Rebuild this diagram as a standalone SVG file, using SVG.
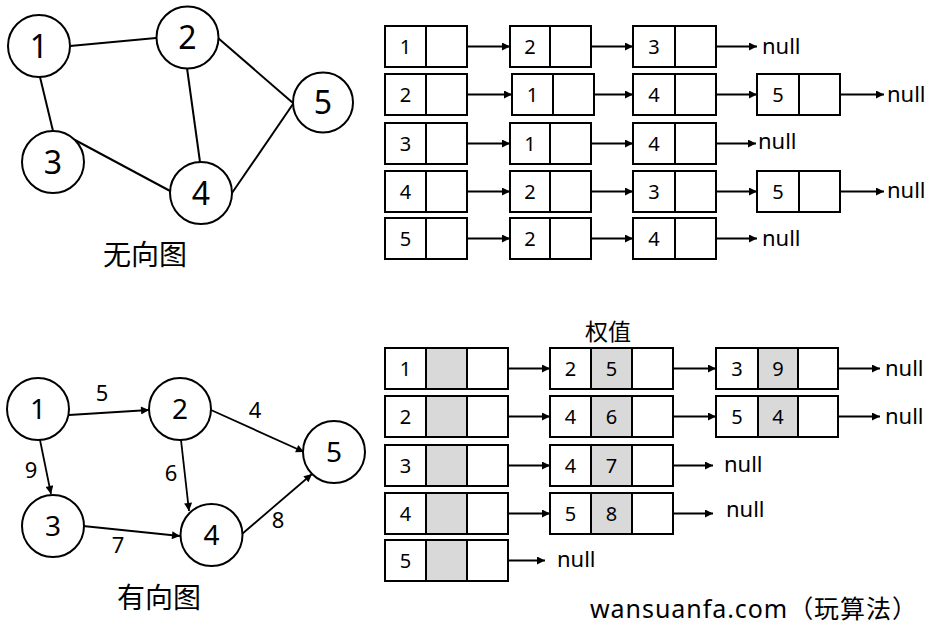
<svg xmlns="http://www.w3.org/2000/svg" width="944" height="641" viewBox="0 0 944 641">
<style>
.c{fill:#fff;stroke:#000;stroke-width:2}
.g{fill:#d9d9d9;stroke:#000;stroke-width:2}
.n{fill:#fff;stroke:#000;stroke-width:2}
.t{font-family:"Noto Sans","Noto Sans CJK SC",sans-serif;fill:#000;text-anchor:middle}
.d{font-size:20px}
.nl{font-family:"Noto Sans","Noto Sans CJK SC",sans-serif;font-size:22px;fill:#000}
.big{font-size:32px}
.mid{font-size:28px}
.el{font-size:22px}
.cap{font-size:28px}
.e{stroke:#000;stroke-width:2;fill:none}
.a{stroke:#000;stroke-width:1.8;fill:none;marker-end:url(#ah)}
</style>
<defs>
<marker id="ah" viewBox="0 0 10 10" refX="10" refY="5" markerWidth="10" markerHeight="8" markerUnits="userSpaceOnUse" orient="auto">
<path d="M0,0 L10,5 L0,10 z" fill="#000"/>
</marker>
</defs>
<rect width="944" height="641" fill="#fff"/>

<!-- Undirected graph -->
<g id="undirected-edges">
<line class="e" x1="70" y1="46" x2="156" y2="38"/>
<line class="e" x1="40" y1="77" x2="53" y2="131"/>
<line class="e" x1="187" y1="68" x2="200" y2="162"/>
<line class="e" x1="218" y1="38" x2="293" y2="103"/>
<line class="e" x1="75" y1="140" x2="172" y2="192"/>
<line class="e" x1="232" y1="193" x2="293" y2="104"/>
</g>
<g id="u1"><circle class="n" cx="39" cy="46" r="31"/><text class="t big" x="39" y="57.5">1</text></g>
<g id="u2"><circle class="n" cx="187.5" cy="37.5" r="31"/><text class="t big" x="187.5" y="49">2</text></g>
<g id="u3"><circle class="n" cx="53" cy="162" r="31"/><text class="t big" x="53" y="173.5">3</text></g>
<g id="u4"><circle class="n" cx="201" cy="193" r="31"/><text class="t big" x="201" y="204.5">4</text></g>
<g id="u5"><circle class="n" cx="323" cy="102.5" r="30"/><text class="t big" x="323" y="114">5</text></g>
<text class="t cap" x="145" y="265">无向图</text>

<!-- Directed graph -->
<g id="directed-edges">
<line class="a" x1="69" y1="415" x2="149" y2="410"/>
<line class="a" x1="40" y1="440" x2="51" y2="494"/>
<line class="a" x1="181" y1="440" x2="189" y2="511"/>
<line class="a" x1="211" y1="410" x2="304" y2="452"/>
<line class="a" x1="83" y1="526" x2="180" y2="536"/>
<line class="a" x1="242" y1="534" x2="312" y2="474"/>
<text class="t el" x="102" y="401">5</text>
<text class="t el" x="31" y="478">9</text>
<text class="t el" x="171" y="481">6</text>
<text class="t el" x="255" y="418">4</text>
<text class="t el" x="118" y="553">7</text>
<text class="t el" x="278" y="528">8</text>
</g>
<g id="d1"><circle class="n" cx="38" cy="409" r="31"/><text class="t mid" x="38" y="419">1</text></g>
<g id="d2"><circle class="n" cx="180" cy="409" r="31"/><text class="t mid" x="180" y="419">2</text></g>
<g id="d3"><circle class="n" cx="53" cy="526" r="31"/><text class="t mid" x="53" y="536">3</text></g>
<g id="d4"><circle class="n" cx="211.5" cy="535" r="31"/><text class="t mid" x="211.5" y="545">4</text></g>
<g id="d5"><circle class="n" cx="334" cy="452" r="31"/><text class="t mid" x="334" y="462">5</text></g>
<text class="t cap" x="159" y="608">有向图</text>

<!-- Undirected adjacency list -->
<g id="ulist-arrows">
<line class="a" x1="447" y1="46.5" x2="510" y2="46.5"/>
<line class="a" x1="571" y1="46.5" x2="633" y2="46.5"/>
<line class="a" x1="695" y1="46.5" x2="757" y2="46.5"/>
<line class="a" x1="447" y1="94.5" x2="512" y2="94.5"/>
<line class="a" x1="573" y1="94.5" x2="633" y2="94.5"/>
<line class="a" x1="695" y1="94.5" x2="757" y2="94.5"/>
<line class="a" x1="819" y1="94.5" x2="884" y2="94.5"/>
<line class="a" x1="447" y1="143.5" x2="510" y2="143.5"/>
<line class="a" x1="571" y1="143.5" x2="633" y2="143.5"/>
<line class="a" x1="695" y1="143.5" x2="756" y2="143.5"/>
<line class="a" x1="447" y1="191.5" x2="510" y2="191.5"/>
<line class="a" x1="571" y1="191.5" x2="633" y2="191.5"/>
<line class="a" x1="695" y1="191.5" x2="757" y2="191.5"/>
<line class="a" x1="819" y1="191.5" x2="884" y2="191.5"/>
<line class="a" x1="447" y1="238.5" x2="510" y2="238.5"/>
<line class="a" x1="571" y1="238.5" x2="633" y2="238.5"/>
<line class="a" x1="695" y1="238.5" x2="757" y2="238.5"/>
</g>
<g id="ul-r1">
<rect class="c" x="385" y="26" width="41" height="41"/><rect class="c" x="426" y="26" width="41" height="41"/><text class="t d" x="405.5" y="53.5">1</text>
<rect class="c" x="510" y="26" width="40" height="41"/><rect class="c" x="550" y="26" width="41" height="41"/><text class="t d" x="530" y="53.5">2</text>
<rect class="c" x="633" y="26" width="42" height="41"/><rect class="c" x="675" y="26" width="41" height="41"/><text class="t d" x="654" y="53.5">3</text>
<text class="nl" x="762" y="54">null</text>
</g>
<g id="ul-r2">
<rect class="c" x="385" y="74" width="41" height="41"/><rect class="c" x="426" y="74" width="41" height="41"/><text class="t d" x="405.5" y="101.5">2</text>
<rect class="c" x="512" y="74" width="41" height="41"/><rect class="c" x="553" y="74" width="41" height="41"/><text class="t d" x="532.5" y="101.5">1</text>
<rect class="c" x="633" y="74" width="42" height="41"/><rect class="c" x="675" y="74" width="41" height="41"/><text class="t d" x="654" y="101.5">4</text>
<rect class="c" x="757" y="74" width="42" height="41"/><rect class="c" x="799" y="74" width="41" height="41"/><text class="t d" x="778" y="101.5">5</text>
<text class="nl" x="887" y="102">null</text>
</g>
<g id="ul-r3">
<rect class="c" x="385" y="123" width="41" height="41"/><rect class="c" x="426" y="123" width="41" height="41"/><text class="t d" x="405.5" y="150.5">3</text>
<rect class="c" x="510" y="123" width="40" height="41"/><rect class="c" x="550" y="123" width="41" height="41"/><text class="t d" x="530" y="150.5">1</text>
<rect class="c" x="633" y="123" width="42" height="41"/><rect class="c" x="675" y="123" width="41" height="41"/><text class="t d" x="654" y="150.5">4</text>
<text class="nl" x="758" y="149">null</text>
</g>
<g id="ul-r4">
<rect class="c" x="385" y="171" width="41" height="41"/><rect class="c" x="426" y="171" width="41" height="41"/><text class="t d" x="405.5" y="198.5">4</text>
<rect class="c" x="510" y="171" width="40" height="41"/><rect class="c" x="550" y="171" width="41" height="41"/><text class="t d" x="530" y="198.5">2</text>
<rect class="c" x="633" y="171" width="42" height="41"/><rect class="c" x="675" y="171" width="41" height="41"/><text class="t d" x="654" y="198.5">3</text>
<rect class="c" x="757" y="171" width="42" height="41"/><rect class="c" x="799" y="171" width="41" height="41"/><text class="t d" x="778" y="198.5">5</text>
<text class="nl" x="887" y="198">null</text>
</g>
<g id="ul-r5">
<rect class="c" x="385" y="218" width="41" height="41"/><rect class="c" x="426" y="218" width="41" height="41"/><text class="t d" x="405.5" y="245.5">5</text>
<rect class="c" x="510" y="218" width="40" height="41"/><rect class="c" x="550" y="218" width="41" height="41"/><text class="t d" x="530" y="245.5">2</text>
<rect class="c" x="633" y="218" width="42" height="41"/><rect class="c" x="675" y="218" width="41" height="41"/><text class="t d" x="654" y="245.5">4</text>
<text class="nl" x="762" y="246">null</text>
</g>

<!-- Directed weighted adjacency list -->
<text class="t" style="font-size:23px" x="608" y="340">权值</text>
<g id="dlist-arrows">
<line class="a" x1="487" y1="368.5" x2="550" y2="368.5"/>
<line class="a" x1="653" y1="368.5" x2="716" y2="368.5"/>
<line class="a" x1="818" y1="368.5" x2="880" y2="368.5"/>
<line class="a" x1="487" y1="416.5" x2="550" y2="416.5"/>
<line class="a" x1="653" y1="416.5" x2="716" y2="416.5"/>
<line class="a" x1="818" y1="416.5" x2="880" y2="416.5"/>
<line class="a" x1="487" y1="465.5" x2="550" y2="465.5"/>
<line class="a" x1="653" y1="465.5" x2="713" y2="465.5"/>
<line class="a" x1="487" y1="513.5" x2="550" y2="513.5"/>
<line class="a" x1="653" y1="513.5" x2="713" y2="513.5"/>
<line class="a" x1="487" y1="560.5" x2="545" y2="560.5"/>
</g>
<g id="dl-r1">
<rect class="c" x="385" y="348" width="41" height="41"/><rect class="g" x="426" y="348" width="41" height="41"/><rect class="c" x="467" y="348" width="41" height="41"/><text class="t d" x="405.5" y="375.5">1</text>
<rect class="c" x="550" y="348" width="41" height="41"/><rect class="g" x="591" y="348" width="41" height="41"/><rect class="c" x="632" y="348" width="41" height="41"/><text class="t d" x="570.5" y="375.5">2</text><text class="t d" x="611.5" y="375.5">5</text>
<rect class="c" x="716" y="348" width="42" height="41"/><rect class="g" x="758" y="348" width="40" height="41"/><rect class="c" x="798" y="348" width="40" height="41"/><text class="t d" x="737" y="375.5">3</text><text class="t d" x="778" y="375.5">9</text>
<text class="nl" x="885" y="376">null</text>
</g>
<g id="dl-r2">
<rect class="c" x="385" y="396" width="41" height="41"/><rect class="g" x="426" y="396" width="41" height="41"/><rect class="c" x="467" y="396" width="41" height="41"/><text class="t d" x="405.5" y="423.5">2</text>
<rect class="c" x="550" y="396" width="41" height="41"/><rect class="g" x="591" y="396" width="41" height="41"/><rect class="c" x="632" y="396" width="41" height="41"/><text class="t d" x="570.5" y="423.5">4</text><text class="t d" x="611.5" y="423.5">6</text>
<rect class="c" x="716" y="396" width="42" height="41"/><rect class="g" x="758" y="396" width="40" height="41"/><rect class="c" x="798" y="396" width="40" height="41"/><text class="t d" x="737" y="423.5">5</text><text class="t d" x="778" y="423.5">4</text>
<text class="nl" x="885" y="424">null</text>
</g>
<g id="dl-r3">
<rect class="c" x="385" y="445" width="41" height="41"/><rect class="g" x="426" y="445" width="41" height="41"/><rect class="c" x="467" y="445" width="41" height="41"/><text class="t d" x="405.5" y="472.5">3</text>
<rect class="c" x="550" y="445" width="41" height="41"/><rect class="g" x="591" y="445" width="41" height="41"/><rect class="c" x="632" y="445" width="41" height="41"/><text class="t d" x="570.5" y="472.5">4</text><text class="t d" x="611.5" y="472.5">7</text>
<text class="nl" x="724" y="472">null</text>
</g>
<g id="dl-r4">
<rect class="c" x="385" y="493" width="41" height="41"/><rect class="g" x="426" y="493" width="41" height="41"/><rect class="c" x="467" y="493" width="41" height="41"/><text class="t d" x="405.5" y="520.5">4</text>
<rect class="c" x="550" y="493" width="41" height="41"/><rect class="g" x="591" y="493" width="41" height="41"/><rect class="c" x="632" y="493" width="41" height="41"/><text class="t d" x="570.5" y="520.5">5</text><text class="t d" x="611.5" y="520.5">8</text>
<text class="nl" x="726" y="517">null</text>
</g>
<g id="dl-r5">
<rect class="c" x="385" y="540" width="41" height="41"/><rect class="g" x="426" y="540" width="41" height="41"/><rect class="c" x="467" y="540" width="41" height="41"/><text class="t d" x="405.5" y="567.5">5</text>
<text class="nl" x="557" y="567">null</text>
</g>

<text x="590" y="618" style="font-family:'Noto Sans','Noto Sans CJK SC',sans-serif;font-size:25px" textLength="327">wansuanfa.com（玩算法）</text>
</svg>
